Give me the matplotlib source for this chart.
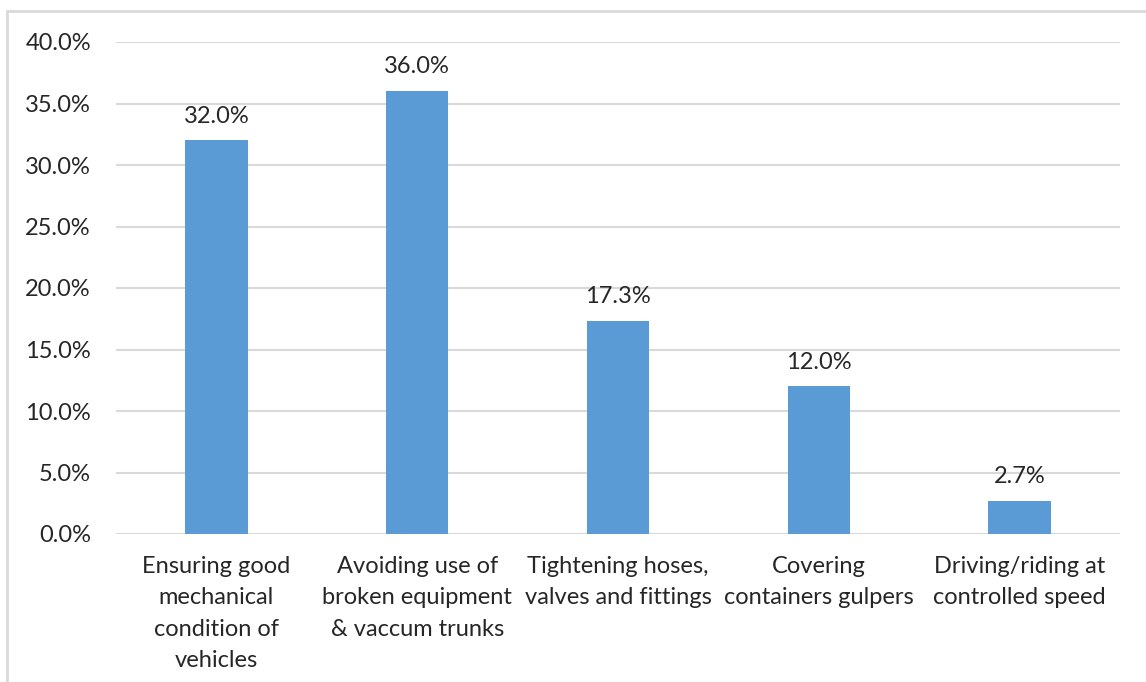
import matplotlib
matplotlib.use("Agg")
import matplotlib.pyplot as plt
from matplotlib.patches import Rectangle
from matplotlib.ticker import FuncFormatter, MultipleLocator

categories = [
    "Ensuring good\nmechanical\ncondition of\nvehicles",
    "Avoiding use of\nbroken equipment\n& vaccum trunks",
    "Tightening hoses,\nvalves and fittings",
    "Covering\ncontainers gulpers",
    "Driving/riding at\ncontrolled speed",
]
values = [32.0, 36.0, 17.3, 12.0, 2.7]

plt.rcParams["font.family"] = ["Lato", "DejaVu Sans"]

fig = plt.figure(figsize=(11.46, 6.82), dpi=100)
fig.patch.set_facecolor("white")
ax = fig.add_axes([116 / 1146, 1 - 534 / 682, 1004 / 1146, 492 / 682])

x = list(range(len(categories)))
ax.bar(x, values, width=0.31, color="#5b9bd5", zorder=3)

for xi, v in zip(x, values):
    ax.annotate(f"{v:.1f}%", (xi, v), xytext=(0, 10), textcoords="offset points",
                ha="center", va="bottom", fontsize=17, color="#262626")

ax.set_xlim(-0.5, len(categories) - 0.5)
ax.set_ylim(0, 40)
ax.yaxis.set_major_locator(MultipleLocator(5))
ax.yaxis.set_major_formatter(FuncFormatter(lambda v, p: f"{v:.1f}%"))
ax.grid(axis="y", color="#d9d9d9", linewidth=1.5, zorder=0)
for s in ax.spines.values():
    s.set_visible(False)
ax.tick_params(axis="both", length=0, labelsize=17, labelcolor="#262626")
ax.tick_params(axis="y", pad=18)
ax.tick_params(axis="x", pad=16)
ax.set_xticks(x)
ax.set_xticklabels(categories, linespacing=1.6)

# Outer frame of the chart area
fig.patches.append(Rectangle((7 / 1146, -0.1), 1.2, 1 - 11 / 682 + 0.1,
                             transform=fig.transFigure, fill=False,
                             edgecolor="#d9d9d9", linewidth=2))

fig.savefig("out.png", dpi=100)
